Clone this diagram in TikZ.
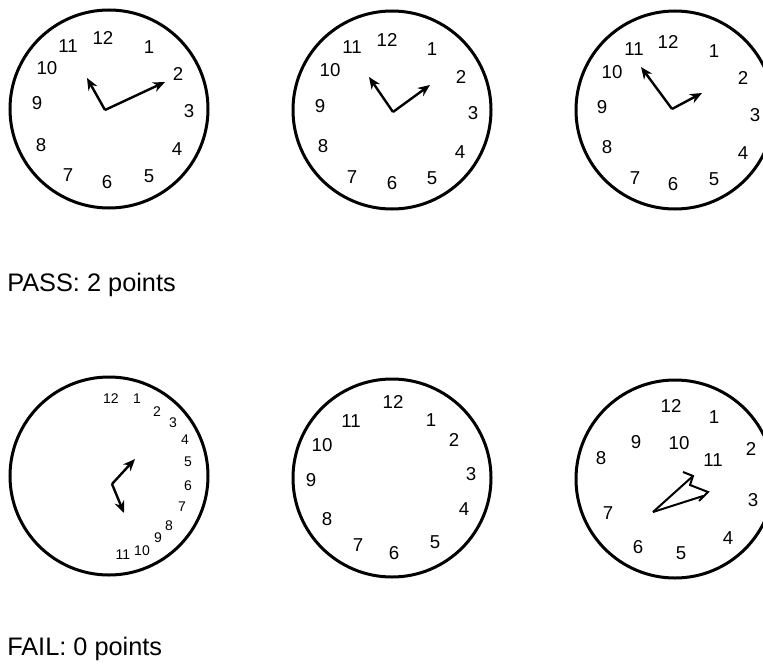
\documentclass[tikz,border=0pt]{standalone}
\usepackage{fontspec}
\setmainfont{Liberation Sans}
\usetikzlibrary{arrows.meta}

\begin{document}
\begin{tikzpicture}[x=0.75pt,y=-0.75pt,
  face/.style={line width=2.25pt},
  hand/.style={-{Stealth[length=9pt,width=7.5pt]},line width=1.8pt},
  num/.style={inner sep=0pt,font=\fontsize{14}{16}\selectfont},
  smallnum/.style={inner sep=0pt,font=\fontsize{10.5}{12}\selectfont},
  verdict/.style={anchor=base west,inner sep=0pt,font=\fontsize{19}{22}\selectfont}]
  \useasboundingbox (0,0) rectangle (763,667);
  \clip (0,0) rectangle (763,667);

  % passing clocks
  \draw[face] (109,109) circle (99);
  \foreach \n/\px/\py in {12/103/38,1/149/47,2/178/74,3/189/111,4/177/149,5/149/176,
      6/107/182,7/68/175,8/41/145,9/37/103,10/47/68,11/68/46}
    \node[num] (a\n) at (\px,\py) {\n};
  \coordinate (a0) at (105,110);
  \coordinate (ahour) at (87,78);
  \coordinate (amin) at (165,82);
  \draw[hand] (a0) -- (ahour);
  \draw[hand] (a0) -- (amin);

  \draw[face] (392,110) circle (99);
  \foreach \n/\px/\py in {12/387/40,1/432/49,2/461/77,3/473/113,4/460/152,5/432/178,
      6/392/183,7/352/177,8/323/146,9/320/106,10/330/70,11/352/47}
    \node[num] (b\n) at (\px,\py) {\n};
  \coordinate (b0) at (393,112);
  \coordinate (bhour) at (369,77);
  \coordinate (bmin) at (430,85);
  \draw[hand] (b0) -- (bhour);
  \draw[hand] (b0) -- (bmin);

  \draw[face] (675,110) circle (99);
  \foreach \n/\px/\py in {12/668/42,1/714/51,2/743/78,3/755/115,4/743/153,5/714/179,
      6/673/184,7/635/178,8/607/147,9/602/107,10/612/72,11/634/49}
    \node[num] (c\n) at (\px,\py) {\n};
  \coordinate (c0) at (672,109);
  \coordinate (chour) at (641,67);
  \coordinate (cmin) at (702,93);
  \draw[hand] (c0) -- (chour);
  \draw[hand] (c0) -- (cmin);

  \node[verdict] (pass) at (7,291) {PASS: 2 points};

  % failing clocks
  \draw[face] (109,476) circle (99);
  \foreach \n/\px/\py in {12/111/399,1/137/399,2/157/412,3/173/423,4/185/440,5/188/462,
      6/188/486,7/182/507,8/169/526,9/158/538,10/142/551,11/123/555}
    \node[smallnum] (d\n) at (\px,\py) {\n};
  \coordinate (d0) at (112,484);
  \coordinate (dup) at (135,459);
  \coordinate (ddown) at (124,513);
  \draw[hand] (d0) -- (dup);
  \draw[hand] (d0) -- (ddown);

  \draw[face] (392,478) circle (99);
  \foreach \n/\px/\py in {12/393/402,1/431/420,2/454/440,3/471/474,4/464/509,5/435/542,
      6/394/553,7/358/545,8/327/519,9/311/480,10/322/445,11/351/421}
    \node[num] (e\n) at (\px,\py) {\n};

  \draw[face] (675,479) circle (99);
  \foreach \n/\px/\py in {12/671/406,1/714/417,2/751/449,3/753/500,4/728/538,5/681/553,
      6/638/547,7/608/513,8/601/458,9/636/442,10/679/443,11/713/460}
    \node[num] (f\n) at (\px,\py) {\n};
  \coordinate (f0) at (653,512);
  \coordinate (ftip) at (693,476);
  \coordinate (fbarb) at (683,472);
  \coordinate (fkink) at (690,485);
  \coordinate (fpoint) at (708,492);
  \coordinate (fend) at (699,501);
  \coordinate (flow) at (703,496);
  \draw[line width=1.5pt,line join=miter] (f0) -- (ftip);
  \draw[line width=1.5pt,line join=miter] (fbarb) -- (ftip) -- (fkink) -- (fpoint) -- (fend);
  \draw[line width=1.5pt] (f0) -- (flow);

  \node[verdict] (fail) at (7,655) {FAIL: 0 points};
\end{tikzpicture}
\end{document}
